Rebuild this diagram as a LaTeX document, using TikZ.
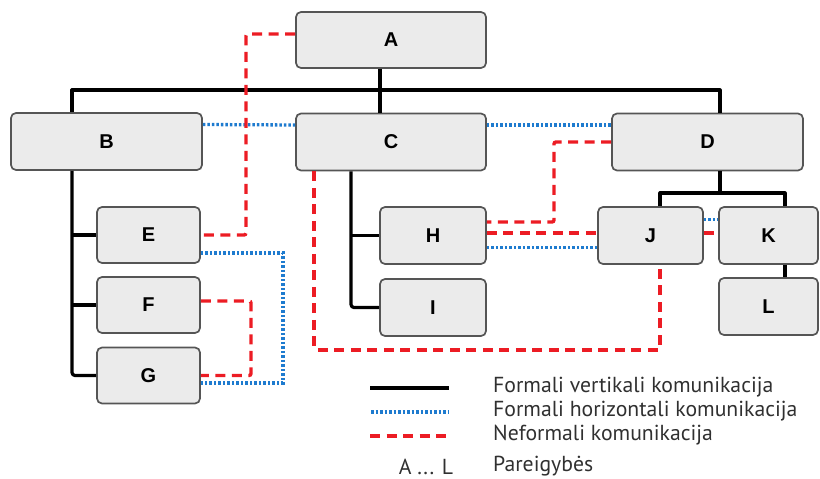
\documentclass[tikz,border=0pt]{standalone}
\usepackage{fontspec}
\setmainfont{PT Sans}
\newfontfamily\boxfont{Liberation Sans}
\definecolor{boxfill}{HTML}{EBEBEB}
\definecolor{boxedge}{HTML}{555555}
\definecolor{hblue}{HTML}{1E7BCF}
\definecolor{ired}{HTML}{EC1C24}
\definecolor{legtext}{HTML}{303030}
\begin{document}
\begin{tikzpicture}[x=1pt,y=-1pt,
  box/.style={draw=boxedge, fill=boxfill, line width=1.7pt, rounded corners=5pt,
    inner sep=0pt, minimum height=56pt, font=\boxfont\bfseries\fontsize{20}{20}\selectfont},
  vert/.style={line width=3.2pt, black, line join=round},
  hor/.style={line width=3.3pt, hblue, dash pattern=on 2.6pt off 1.9pt},
  inf/.style={line width=3.4pt, ired, dash pattern=on 10pt off 6.5pt},
  legtxt/.style={anchor=west, inner sep=0pt, text=legtext, font=\fontsize{21.7}{22}\selectfont}]
\useasboundingbox (0,0) rectangle (820,479);
% boxes
\node[box, minimum width=190pt] (A) at (391,40) {A};
\node[box, minimum width=191pt, minimum height=57pt] (B) at (106.5,141.5) {B};
\node[box, minimum width=190pt, minimum height=57pt] (C) at (391,142) {C};
\node[box, minimum width=191pt, minimum height=57pt] (D) at (707.5,142) {D};
\node[box, minimum width=103pt] (E) at (148.5,235) {E};
\node[box, minimum width=103pt] (F) at (148.5,305) {F};
\node[box, minimum width=103pt] (G) at (148.5,375.5) {G};
\node[box, minimum width=106pt, minimum height=57pt] (H) at (433,235.5) {H};
\node[box, minimum width=106pt, minimum height=57pt] (I) at (433,307.5) {I};
\node[box, minimum width=105pt, minimum height=57pt] (J) at (650.5,235.5) {J};
\node[box, minimum width=99pt, minimum height=57pt] (K) at (768.5,235.5) {K};
\node[box, minimum width=99pt, minimum height=57pt] (L) at (768.5,306.5) {L};
% helper coordinates
\coordinate (bB) at (72,90);
\coordinate (bA) at (380,90);
\coordinate (bD) at (720,90);
\coordinate (cx) at (351,171);
\coordinate (dj) at (720,193);
\coordinate (jx) at (660,193);
\coordinate (kx) at (785,193);
% formal vertical
\draw[vert] (B.north -| bB) -- (bB) -- (bD) -- (D.north -| bD);
\draw[vert] (A.south -| bA) -- (bA) -- (C.north -| bA);
\draw[vert, rounded corners=3pt] (B.south -| bB) |- (G.west);
\draw[vert] (E.west -| bB) -- (E.west);
\draw[vert] (F.west -| bB) -- (F.west);
\draw[vert, rounded corners=3pt] (C.south -| cx) |- (I.west);
\draw[vert] (H.west -| cx) -- (H.west);
\draw[vert] (D.south -| dj) -- (dj);
\draw[vert] (J.north -| jx) -- (jx) -- (kx) -- (K.north -| kx);
\draw[vert] (K.south -| kx) -- (L.north -| kx);
% formal horizontal
\coordinate (egb) at (283,383);
\draw[hor] ([yshift=17pt]B.east) -- ([yshift=17pt]C.west);
\draw[hor] ([yshift=17pt]C.east) -- ([yshift=17pt]D.west);
\draw[hor] ([yshift=-12pt]H.east) -- ([yshift=-12pt]J.west);
\draw[hor] ([yshift=16pt]J.east) -- ([yshift=16pt]K.west);
\draw[hor] ([yshift=-18pt]E.east) -| (egb) -- ([yshift=-7.5pt]G.east);
% informal
\coordinate (ae) at (246,235);
\coordinate (fg) at (251,375.5);
\coordinate (dh) at (554,222);
\coordinate (cj1) at (314,350);
\coordinate (cj2) at (660,350);
\draw[inf, rounded corners=2pt] ([yshift=6pt]A.west) -| (ae) -- (E.east);
\draw[inf, rounded corners=2pt] ([yshift=4pt]F.east) -| (fg) -- (G.east);
\draw[inf, rounded corners=2pt] (D.west) -| (dh) -- ([yshift=13.5pt]H.east);
\draw[inf] ([yshift=2.5pt]H.east) -- ([yshift=2.5pt]J.west);
\draw[inf] ([yshift=2.5pt]J.east) -- ([yshift=2.5pt]K.west);
\draw[inf, rounded corners=2pt] (C.south -| cj1) -- (cj1) -- (cj2) -- (J.south -| cj2);
% legend
\coordinate (l1a) at (370,388); \coordinate (l1b) at (449,388);
\coordinate (l2a) at (371,412); \coordinate (l2b) at (448,412);
\coordinate (l3a) at (370,436); \coordinate (l3b) at (449,436);
\draw[vert, line width=3.8pt] (l1a) -- (l1b);
\draw[hor] (l2a) -- (l2b);
\draw[inf] (l3a) -- (l3b);
\node[legtxt] (t1) at (493,387) {Formali vertikali komunikacija};
\node[legtxt] (t2) at (493,411) {Formali horizontali komunikacija};
\node[legtxt] (t3) at (493,435) {Neformali komunikacija};
\node[legtxt] (t4) at (493,466) {Pareigybės};
\node[inner sep=0pt, text=legtext, font=\fontsize{21.7}{22}\selectfont] (al) at (426,467) {A ... L};
\end{tikzpicture}
\end{document}
